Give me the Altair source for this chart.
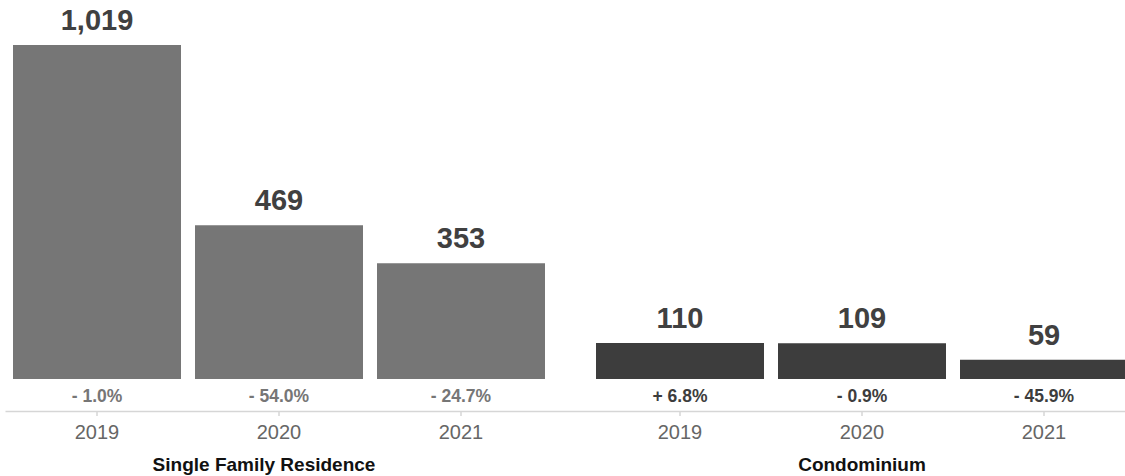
import altair as alt
import pandas as pd

# ---- data ----
group_names = ["Single Family Residence", "Condominium"]
groups = ["Single Family Residence"] * 3 + ["Condominium"] * 3
years = ["2019", "2020", "2021", "2019", "2020", "2021"]
values = [1019, 469, 353, 110, 109, 59]
changes = ["- 1.0%", "- 54.0%", "- 24.7%", "+ 6.8%", "- 0.9%", "- 45.9%"]

df = pd.DataFrame({"group": groups, "year": years, "value": values, "change": changes})
gdf = pd.DataFrame({"group": group_names})

FONT = "Helvetica Neue, Liberation Sans, Arial, sans-serif"

x_enc = alt.X(
    "group:N",
    sort=group_names,
    scale=alt.Scale(range=[0, 1131], paddingInner=37 / 583, paddingOuter=1 / 583),
    axis=alt.Axis(labels=False, ticks=False, title=None, domainColor="#d6d6d6", domainWidth=1.5),
)
xoff_enc = alt.XOffset(
    "year:N",
    sort=["2019", "2020", "2021"],
    scale=alt.Scale(paddingInner=14 / 182, paddingOuter=7 / 182),
)
y_scale = alt.Scale(domain=[-97.6, 1141], nice=False, zero=False)
color_enc = alt.Color(
    "group:N",
    scale=alt.Scale(domain=group_names, range=["#767676", "#3d3d3d"]),
    legend=None,
)

base = alt.Chart(df)

bars = base.mark_bar().encode(
    x=x_enc,
    xOffset=xoff_enc,
    y=alt.Y("value:Q", scale=y_scale, axis=None),
    y2=alt.datum(0),
    color=color_enc,
)

value_labels = base.mark_text(
    font=FONT, fontSize=29, fontWeight="bold", color="#404040",
    baseline="alphabetic", dy=-15,
).encode(
    x=x_enc,
    xOffset=xoff_enc,
    y=alt.Y("value:Q", scale=y_scale, axis=None),
    text=alt.Text("value:Q", format=","),
)

pct_labels = base.mark_text(
    font=FONT, fontSize=17.5, fontWeight="bold", baseline="middle",
).encode(
    x=x_enc,
    xOffset=xoff_enc,
    y=alt.value(392),
    text="change:N",
    color=color_enc,
)

ticks = base.mark_rule(color="#d6d6d6", strokeWidth=1.5).encode(
    x=x_enc,
    xOffset=xoff_enc,
    y=alt.value(406),
    y2=alt.value(411),
)

year_labels = base.mark_text(
    font=FONT, fontSize=20, color="#666666", baseline="middle",
).encode(
    x=x_enc,
    xOffset=xoff_enc,
    y=alt.value(428),
    text="year:N",
)

group_label_style = dict(font=FONT, fontSize=19, fontWeight="bold", color="#111111", baseline="middle")

group_label_sfr = alt.Chart(gdf).transform_filter(
    alt.datum.group == group_names[0]
).mark_text(dx=-15, **group_label_style).encode(
    x=x_enc,
    y=alt.value(460),
    text="group:N",
)

group_label_condo = alt.Chart(gdf).transform_filter(
    alt.datum.group == group_names[1]
).mark_text(**group_label_style).encode(
    x=x_enc,
    y=alt.value(460),
    text="group:N",
)

chart = alt.layer(
    bars, value_labels, pct_labels, ticks, year_labels, group_label_sfr, group_label_condo
).properties(
    width=1120,
    height=406,
    autosize=alt.AutoSizeParams(type="none"),
    padding={"left": 5, "top": 5, "right": 0, "bottom": 65},
).configure_view(stroke=None)

chart.save("out.html", embed_options={"renderer": "svg", "actions": False})
